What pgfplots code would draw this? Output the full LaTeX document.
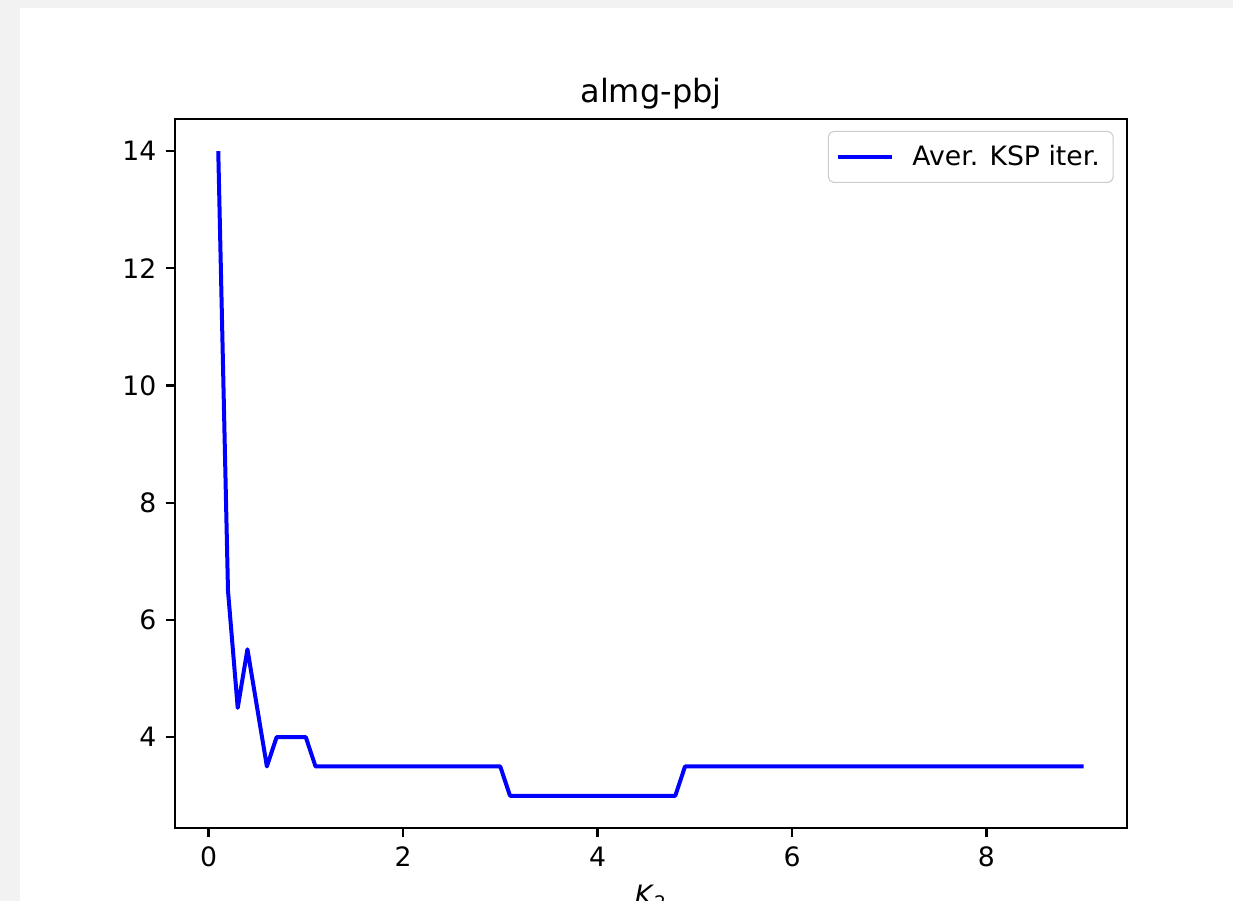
\documentclass[border=0pt]{standalone}
\usepackage{fontspec}
\setmainfont{DejaVu Sans}
\usepackage{pgfplots}
\pgfplotsset{compat=1.18}
\definecolor{mplblue}{RGB}{0,0,255}
\begin{document}
\begin{tikzpicture}[x=0.375pt,y=0.375pt]
% page background (1233 x 901 px, 1px = 0.375pt)
\fill[gray!10] (-175,-73) rectangle (1058,828);
\fill[white] (-155,-73) rectangle (1058,820);
\begin{scope}
\clip (-175,-73) rectangle (1058,828);
\begin{axis}[
  at={(0,0)}, anchor=south west,
  scale only axis, width=357pt, height=265.9pt,
  xmin=-0.345, xmax=9.445, ymin=2.45, ymax=14.55,
  xtick={0,2,4,6,8}, ytick={4,6,8,10,12,14},
  xtick pos=lower, ytick pos=left,
  tick align=outside, major tick length=3.5pt,
  tick style={black, line width=0.8pt},
  axis line style={line width=0.8pt},
  /pgf/number format/assume math mode=true,
  ticklabel style={font=\fontsize{10}{12}\selectfont},
  title={almg-pbj},
  title style={font=\fontsize{12}{14}\selectfont, yshift=-6pt},
  xlabel={\textit{K}\textsubscript{2}},
  xlabel style={font=\fontsize{10}{12}\selectfont},
  legend style={at={(1,1)}, anchor=north east, xshift=-5pt, yshift=-4.5pt,
    draw=black!20, rounded corners=2pt, font=\fontsize{10}{12}\selectfont,
    inner xsep=3pt, inner ysep=3pt},
  legend cell align=left,
  legend image code/.code={\draw[#1] (0pt,0pt) -- (20pt,0pt); \path (25pt,0pt);},
]
  \addplot[mplblue, line width=1.5pt, line join=round] coordinates {
    (0.1,14) (0.2,6.5) (0.3,4.5) (0.4,5.5) (0.5,4.5) (0.6,3.5)
    (0.7,4) (1.0,4) (1.1,3.5) (3.0,3.5) (3.1,3) (4.8,3) (4.9,3.5) (9.0,3.5)
  };
  \addlegendentry{Aver. KSP iter.}
\end{axis}
\end{scope}
\end{tikzpicture}
\end{document}
